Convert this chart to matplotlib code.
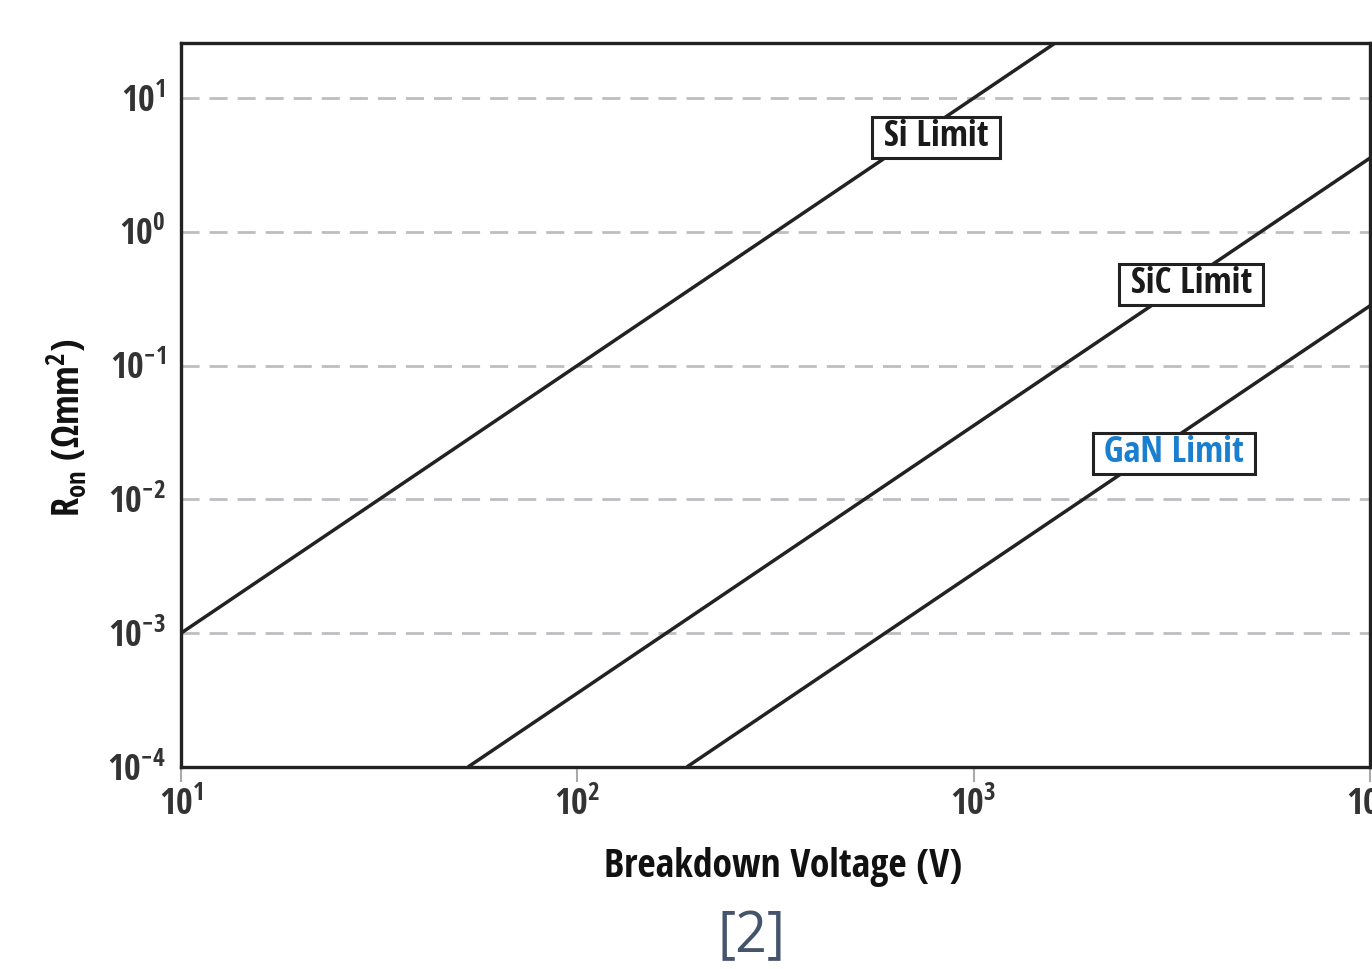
import matplotlib
matplotlib.use('Agg')
import matplotlib.pyplot as plt
from matplotlib import font_manager
from matplotlib.ticker import FixedLocator, NullLocator

# condensed face if there is one, DejaVu otherwise (sizes scaled down for it)
names = {f.name for f in font_manager.fontManager.ttflist}
prefer = ['Open Sans Condensed', 'PT Sans Narrow', 'Fira Sans Condensed',
          'Asap Condensed', 'Archivo Narrow', 'Liberation Sans Narrow']
narrow = next((n for n in prefer if n in names), None)
font = narrow or 'DejaVu Sans'
k = 1.0 if narrow else 0.8
plt.rcParams['font.family'] = [font, 'DejaVu Sans']
plt.rcParams['mathtext.fontset'] = 'custom'
plt.rcParams['mathtext.rm'] = font + ':light'
plt.rcParams['mathtext.it'] = font + ':light'
plt.rcParams['mathtext.bf'] = font + ':bold'
plt.rcParams['mathtext.fallback'] = 'stixsans'

# limit lines (end points, log-log straight lines)
si_v = [10, 2000]
si_r = [1e-3, 40]
sic_v = [53, 10000]
sic_r = [1e-4, 3.56]
gan_v = [189, 10000]
gan_r = [1e-4, 0.28]

x_ticks = [1e1, 1e2, 1e3, 1e4]
x_labels = [r'$\mathrm{10^{1}}$', r'$\mathrm{10^{2}}$', r'$\mathrm{10^{3}}$', r'$\mathrm{10^{4}}$']
y_ticks = [1e-4, 1e-3, 1e-2, 1e-1, 1e0, 1e1]
y_labels = [r'$\mathrm{10^{-4}}$', r'$\mathrm{10^{-3}}$', r'$\mathrm{10^{-2}}$',
            r'$\mathrm{10^{-1}}$', r'$\mathrm{10^{0}}$', r'$\mathrm{10^{1}}$']

fig = plt.figure(figsize=(13.72, 9.69), dpi=100)
ax = fig.add_axes([0.1319, 0.2085, 0.8666, 0.7471])

ax.set_xscale('log')
ax.set_yscale('log')
ax.set_xlim(10, 1e4)
ax.set_ylim(1e-4, 25.8)

for yv in y_ticks[1:]:
    ax.axhline(yv, color='#bdbdc2', linewidth=2, dashes=(6.5, 3.6), zorder=1)

line_kw = dict(color='#222222', linewidth=2.5, zorder=3, solid_capstyle='butt')
ax.plot(si_v, si_r, **line_kw)
ax.plot(sic_v, sic_r, **line_kw)
ax.plot(gan_v, gan_r, **line_kw)

box = dict(boxstyle='square,pad=0.07', facecolor='white', edgecolor='#222222', linewidth=2.2)
lab_kw = dict(fontsize=26 * k, fontweight='bold', ha='center', va='center', bbox=box, zorder=5)
ax.text(803, 5.1, ' Si Limit ', color='#1a1a1a', **lab_kw)
ax.text(3540, 0.407, ' SiC Limit ', color='#1a1a1a', **lab_kw)
ax.text(3206, 0.0222, ' GaN Limit ', color='#1b7fd0', **lab_kw)

ax.xaxis.set_major_locator(FixedLocator(x_ticks))
ax.xaxis.set_minor_locator(NullLocator())
ax.set_xticklabels(x_labels)
ax.yaxis.set_major_locator(FixedLocator(y_ticks))
ax.yaxis.set_minor_locator(NullLocator())
ax.set_yticklabels(y_labels)

ax.tick_params(axis='x', length=11, width=1.5, color='#aaaaaa', pad=4,
               labelsize=26 * k, labelcolor='#333333')
ax.tick_params(axis='y', length=0, pad=11, labelsize=26 * k, labelcolor='#333333')

for s in ax.spines.values():
    s.set_linewidth(2.4)
    s.set_color('#222222')

ax.set_xlabel('Breakdown Voltage (V)', fontsize=28.5 * k, fontweight='bold', color='#111111')
ax.xaxis.label.set_va('center')
ax.xaxis.set_label_coords(0.506, -0.138)
ax.set_ylabel(r'R$_{\mathbf{on}}$ (Ωmm$^{\mathbf{2}}$)', fontsize=27.5 * k,
              fontweight='bold', color='#111111')
ax.yaxis.label.set_va('center')
ax.yaxis.set_label_coords(-0.095, 0.468)

fig.text(752 / 1372, 1 - 938 / 969, '[2]', fontsize=40, color='#44546a',
         family=['Open Sans', 'DejaVu Sans'], ha='center', va='center')

plt.savefig('out.png', dpi=100)
